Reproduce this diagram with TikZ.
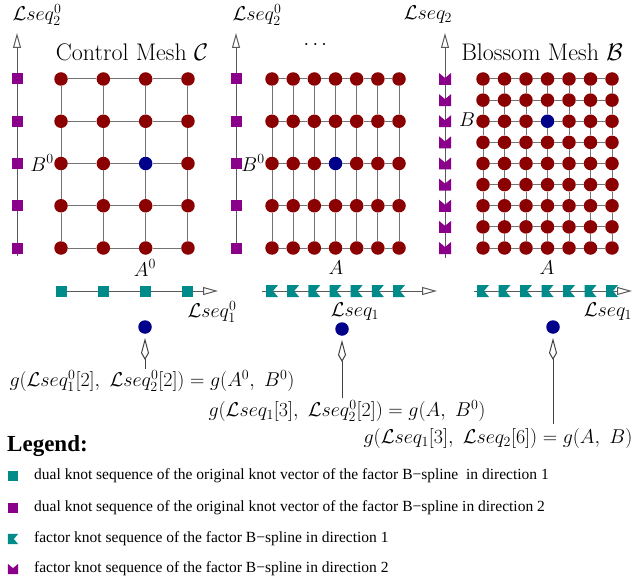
\RequirePackage{fix-cm}
\documentclass[tikz,border=0pt]{standalone}
\usepackage{fontspec}
\usepackage{amsmath,amssymb}
\usetikzlibrary{arrows.meta, positioning, calc}
\newfontfamily\legendfont{Liberation Serif}
\definecolor{meshred}{HTML}{8B0000}
\definecolor{meshblue}{HTML}{00008B}
\definecolor{knotpurple}{HTML}{8B008B}
\definecolor{knotteal}{HTML}{008B8B}

\begin{document}
\begin{tikzpicture}[
    x=1pt, y=-1pt,
    font=\fontsize{20}{24}\selectfont,
    meshdot/.style={circle, fill=meshred, minimum size=13.5pt, inner sep=0pt},
    hitdot/.style={meshdot, fill=meshblue},
    meshline/.style={line width=1pt, black!55},
    axis/.style={line width=1pt, black!65, -{Triangle[open, length=15pt, width=8pt]}},
    pointer/.style={line width=1pt, black!75, -{Kite[open, length=22pt, width=8pt, inset=7pt]}, shorten >=4pt},
    dualone/.style={rectangle, fill=knotteal, minimum size=11pt, inner sep=0pt},
    dualtwo/.style={dualone, fill=knotpurple},
    knotone/.pic={\fill[knotteal] (-6,-6) -- (6,-6) -- (1,0) -- (6,6) -- (-6,6) -- cycle;},
    knottwo/.pic={\fill[knotpurple] (-6,-6) -- (0,-1) -- (6,-6) -- (6,6) -- (-6,6) -- cycle;},
    title/.style={font=\fontsize{24}{28}\selectfont, inner sep=0pt},
    lbl/.style={inner sep=0pt},
    legtext/.style={font=\fontsize{15.5}{17}\legendfont, anchor=west, inner sep=0pt}
  ]
    \useasboundingbox (0,0) rectangle (636,585);

    % control mesh C
    \coordinate (v1s) at (17,256);
    \coordinate (v1e) at (17,33);
    \draw[axis] (v1s) -- (v1e);
    \foreach \j in {1,...,5}
      \node[dualtwo] (p1-\j) at (17,{79+42.25*(\j-1)}) {};
    \coordinate (h1s) at (57,291);
    \coordinate (h1e) at (218,291);
    \draw[axis] (h1s) -- (h1e);
    \foreach \i in {1,...,4}
      \node[dualone] (q1-\i) at ({61+42.33*(\i-1)},291) {};
    \foreach \i in {1,...,4}
      \foreach \j in {1,...,5}{
        \pgfmathtruncatemacro\ishit{(\i==3)&&(\j==3)}
        \ifnum\ishit=1 \def\dotstyle{hitdot}\else\def\dotstyle{meshdot}\fi
        \node[\dotstyle] (c\i-\j) at ({61+42.33*(\i-1)},{79+42.25*(\j-1)}) {};
      }
    \foreach \j in {1,...,5}
      \foreach \i [count=\ii from 2] in {1,...,3}
        \draw[meshline] (c\i-\j) -- (c\ii-\j);
    \foreach \i in {1,...,4}
      \foreach \j [count=\jj from 2] in {1,...,4}
        \draw[meshline] (c\i-\j) -- (c\i-\jj);
    \node[lbl] (s21) at (37,15) {$\mathcal{L}seq_2^0$};
    \node[title] (tc) at (132,52) {Control Mesh $\mathcal{C}$};
    \node[lbl] (b1) at (42,163) {$B^0$};
    \node[lbl] (a1) at (145,268) {$A^0$};
    \node[lbl] (s11) at (212,312) {$\mathcal{L}seq_1^0$};

    % intermediate mesh
    \coordinate (v2s) at (236,254);
    \coordinate (v2e) at (236,33);
    \draw[axis] (v2s) -- (v2e);
    \foreach \j in {1,...,5}
      \node[dualtwo] (p2-\j) at (236,{79+42.25*(\j-1)}) {};
    \coordinate (h2s) at (262,291);
    \coordinate (h2e) at (437,291);
    \draw[axis] (h2s) -- (h2e);
    \foreach \i in {1,...,7}
      \pic (q2-\i) at ({272+21.17*(\i-1)},291) {knotone};
    \foreach \i in {1,...,7}
      \foreach \j in {1,...,5}{
        \pgfmathtruncatemacro\ishit{(\i==4)&&(\j==3)}
        \ifnum\ishit=1 \def\dotstyle{hitdot}\else\def\dotstyle{meshdot}\fi
        \node[\dotstyle] (m\i-\j) at ({272+21.17*(\i-1)},{79+42.25*(\j-1)}) {};
      }
    \foreach \j in {1,...,5}
      \foreach \i [count=\ii from 2] in {1,...,6}
        \draw[meshline] (m\i-\j) -- (m\ii-\j);
    \foreach \i in {1,...,7}
      \foreach \j [count=\jj from 2] in {1,...,4}
        \draw[meshline] (m\i-\j) -- (m\i-\jj);
    \node[lbl] (s22) at (257,15) {$\mathcal{L}seq_2^0$};
    \node[lbl] (dots) at (317,45) {$\cdots$};
    \node[lbl] (b2) at (253,163) {$B^0$};
    \node[lbl] (a2) at (336,268) {$A$};
    \node[lbl] (s12) at (355,312) {$\mathcal{L}seq_1$};

    % blossom mesh B
    \coordinate (v3s) at (445,258);
    \coordinate (v3e) at (445,33);
    \draw[axis] (v3s) -- (v3e);
    \foreach \j in {1,...,9}
      \pic (p3-\j) at (445,{79+21.125*(\j-1)}) {knottwo};
    \coordinate (h3s) at (474,291);
    \coordinate (h3e) at (632,291);
    \draw[axis] (h3s) -- (h3e);
    \foreach \i in {1,...,7}
      \pic (q3-\i) at ({483+21.5*(\i-1)},291) {knotone};
    \foreach \i in {1,...,7}
      \foreach \j in {1,...,9}{
        \pgfmathtruncatemacro\ishit{(\i==4)&&(\j==3)}
        \ifnum\ishit=1 \def\dotstyle{hitdot}\else\def\dotstyle{meshdot}\fi
        \node[\dotstyle] (b\i-\j) at ({483+21.5*(\i-1)},{79+21.125*(\j-1)}) {};
      }
    \foreach \j in {1,...,9}
      \foreach \i [count=\ii from 2] in {1,...,6}
        \draw[meshline] (b\i-\j) -- (b\ii-\j);
    \foreach \i in {1,...,7}
      \foreach \j [count=\jj from 2] in {1,...,8}
        \draw[meshline] (b\i-\j) -- (b\i-\jj);
    \node[lbl] (s23) at (428,15) {$\mathcal{L}seq_2$};
    \node[title] (tb) at (542,52) {Blossom Mesh $\mathcal{B}$};
    \node[lbl] (b3) at (467,120) {$B$};
    \node[lbl] (a3) at (547,268) {$A$};
    \node[lbl] (s13) at (608,312) {$\mathcal{L}seq_1$};

    % evaluated points
    \node[hitdot] (e1) at (145,327) {};
    \node[hitdot] (e2) at (342,329) {};
    \node[hitdot] (e3) at (553,327) {};
    \node[lbl] (f1) at (152,381) {$g(\mathcal{L}seq_1^0[2],\ \mathcal{L}seq_2^0[2]) = g(A^0,\ B^0)$};
    \node[lbl] (f2) at (347,411) {$g(\mathcal{L}seq_1[3],\ \mathcal{L}seq_2^0[2]) = g(A,\ B^0)$};
    \node[lbl] (f3) at (498,438) {$g(\mathcal{L}seq_1[3],\ \mathcal{L}seq_2[6]) = g(A,\ B)$};
    \coordinate (g1) at (145,369);
    \coordinate (g2) at (342,398);
    \coordinate (g3) at (553,424);
    \draw[pointer] (g1) -- (e1);
    \draw[pointer] (g2) -- (e2);
    \draw[pointer] (g3) -- (e3);

    % legend
    \node[anchor=west, inner sep=0pt, font=\fontsize{23}{26}\legendfont\bfseries] (leg) at (7,446) {Legend:};
    \node[dualone, minimum size=10pt] (k1) at (13,476) {};
    \node[dualtwo, minimum size=10pt] (k2) at (13,508) {};
    \pic[scale=0.85] (k3) at (13,539) {knotone};
    \pic[scale=0.85] (k4) at (13,569) {knottwo};
    \node[legtext] (t1) at (34,476) {dual knot sequence of the original knot vector of the factor B−spline\ \ in direction 1};
    \node[legtext] (t2) at (34,508) {dual knot sequence of the original knot vector of the factor B−spline in direction 2};
    \node[legtext] (t3) at (34,539) {factor knot sequence of the factor B−spline in direction 1};
    \node[legtext] (t4) at (34,569) {factor knot sequence of the factor B−spline in direction 2};
  \end{tikzpicture}
\end{document}
